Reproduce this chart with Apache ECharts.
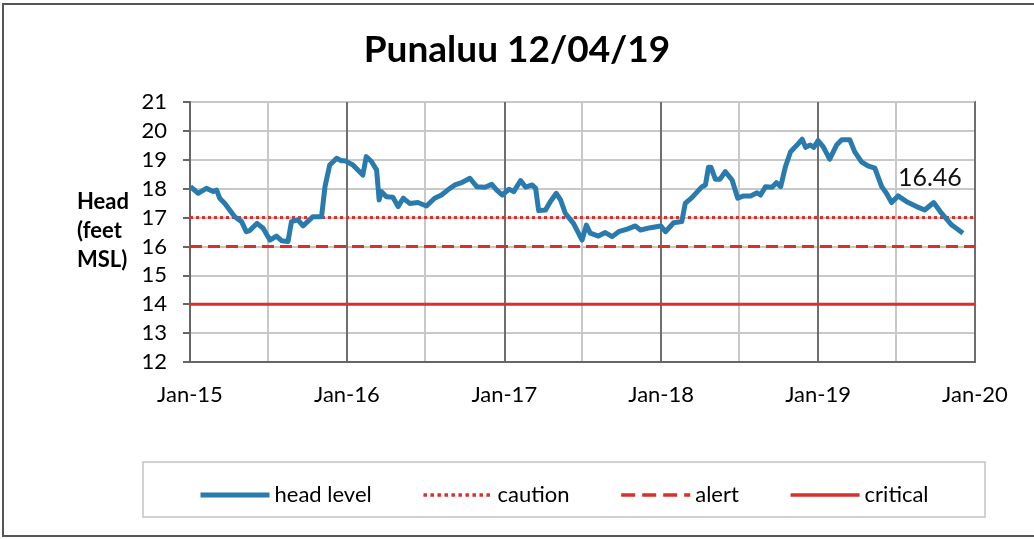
<!DOCTYPE html>
<html>
<head>
<meta charset="utf-8">
<script src="https://cdn.jsdelivr.net/npm/echarts@6/dist/echarts.min.js"></script>
<style>
  html, body { margin: 0; padding: 0; background: #fff; }
  #chart { width: 1034px; height: 539px; }
</style>
</head>
<body>
<div id="chart"></div>
<script>
// head level readings (feet MSL)
const dates = [
  '2015-01-02', '2015-01-20', '2015-02-08', '2015-02-24', '2015-03-04', '2015-03-11', '2015-03-23', '2015-04-15',
  '2015-05-01', '2015-05-12', '2015-05-20', '2015-06-06', '2015-06-20', '2015-07-06', '2015-07-21', '2015-08-02',
  '2015-08-17', '2015-08-25', '2015-09-09', '2015-09-21', '2015-10-14', '2015-11-03', '2015-11-11', '2015-11-22',
  '2015-12-08', '2015-12-19', '2015-12-27', '2016-01-15', '2016-02-07', '2016-02-15', '2016-02-27', '2016-03-10',
  '2016-03-16', '2016-03-21', '2016-04-02', '2016-04-17', '2016-04-29', '2016-05-11', '2016-05-26', '2016-06-14',
  '2016-07-04', '2016-07-23', '2016-08-08', '2016-08-23', '2016-09-08', '2016-09-24', '2016-10-13', '2016-10-29',
  '2016-11-17', '2016-12-03', '2016-12-14', '2016-12-27', '2017-01-12', '2017-01-23', '2017-02-08', '2017-02-20',
  '2017-03-07', '2017-03-15', '2017-03-22', '2017-04-07', '2017-04-18', '2017-05-02', '2017-05-12', '2017-05-23',
  '2017-06-11', '2017-07-01', '2017-07-11', '2017-07-20', '2017-08-08', '2017-08-24', '2017-09-09', '2017-09-24',
  '2017-10-14', '2017-11-02', '2017-11-14', '2017-12-07', '2017-12-31', '2018-01-11', '2018-01-30', '2018-02-18',
  '2018-02-26', '2018-03-14', '2018-04-06', '2018-04-14', '2018-04-21', '2018-04-27', '2018-05-07', '2018-05-18',
  '2018-05-30', '2018-06-15', '2018-06-28', '2018-07-12', '2018-07-28', '2018-08-12', '2018-08-20', '2018-09-01',
  '2018-09-16', '2018-09-26', '2018-10-06', '2018-10-17', '2018-10-29', '2018-11-13', '2018-11-25', '2018-12-03',
  '2018-12-14', '2018-12-22', '2019-01-01', '2019-01-13', '2019-01-28', '2019-02-13', '2019-02-25', '2019-03-16',
  '2019-03-27', '2019-04-12', '2019-04-27', '2019-05-13', '2019-05-29', '2019-06-09', '2019-06-21', '2019-07-06',
  '2019-07-26', '2019-08-18', '2019-09-06', '2019-09-27', '2019-10-15', '2019-11-08', '2019-12-04'
];
const headLevel = [
  18.07, 17.84, 18.01, 17.90, 17.95, 17.67, 17.49, 17.03,
  16.86, 16.51, 16.55, 16.80, 16.63, 16.22, 16.36, 16.20,
  16.17, 16.86, 16.92, 16.71, 17.03, 17.03, 18.07, 18.82,
  19.05, 18.97, 18.97, 18.82, 18.47, 19.11, 18.94, 18.65,
  17.61, 17.90, 17.72, 17.70, 17.38, 17.67, 17.49, 17.52,
  17.40, 17.67, 17.78, 17.96, 18.13, 18.21, 18.36, 18.07,
  18.05, 18.15, 17.96, 17.78, 17.98, 17.90, 18.28, 18.05,
  18.13, 18.01, 17.24, 17.26, 17.55, 17.84, 17.61, 17.15,
  16.80, 16.22, 16.74, 16.46, 16.36, 16.48, 16.34, 16.51,
  16.60, 16.71, 16.57, 16.65, 16.71, 16.51, 16.82, 16.86,
  17.49, 17.70, 18.07, 18.13, 18.74, 18.74, 18.33, 18.33,
  18.59, 18.30, 17.67, 17.75, 17.75, 17.86, 17.78, 18.07,
  18.05, 18.21, 18.07, 18.76, 19.28, 19.51, 19.71, 19.43,
  19.51, 19.43, 19.66, 19.45, 19.02, 19.51, 19.69, 19.69,
  19.28, 18.93, 18.79, 18.71, 18.07, 17.84, 17.52, 17.75,
  17.55, 17.38, 17.26, 17.52, 17.15, 16.74, 16.46
];

// threshold levels
const thresholdNames = ['caution', 'alert', 'critical'];
const thresholdValues = [17, 16, 14];
const thresholdTypes = ['dotted', 'dashed', 'solid'];

const xRange = ['2015-01-01', '2020-01-01'];

const chart = echarts.init(document.getElementById('chart'));
const font = 'Lato, "Noto Sans", sans-serif';
const red = '#d8302a';

const series = [{
  name: 'head level',
  type: 'line',
  symbol: 'none',
  data: dates.map((d, i) => [d, headLevel[i]]),
  lineStyle: { color: '#2a7bad', width: 5, join: 'round' },
  itemStyle: { color: '#2a7bad' },
  // latest reading shown above the end of the line
  endLabel: {
    show: true,
    formatter: p => p.value[1].toFixed(2),
    distance: 0,
    offset: [-65, -55],
    fontSize: 25,
    fontFamily: font,
    color: '#111'
  },
  z: 5
}];
thresholdNames.forEach((name, i) => {
  series.push({
    name,
    type: 'line',
    symbol: 'none',
    data: xRange.map(d => [d, thresholdValues[i]]),
    lineStyle: { color: red, width: 3, type: thresholdTypes[i] },
    itemStyle: { color: red },
    z: 3
  });
});

const option = {
  backgroundColor: '#fff',
  animation: false,
  title: {
    text: 'Punaluu 12/04/19',
    left: 'center',
    top: 27,
    textStyle: { fontFamily: font, fontWeight: 'bold', fontSize: 37, color: '#000' }
  },
  grid: { left: 190, right: 59, top: 102, bottom: 177, show: true, borderColor: '#666', borderWidth: 2 },
  xAxis: {
    type: 'time',
    min: xRange[0],
    max: xRange[1],
    minInterval: 3600 * 24 * 1000 * 180,
    maxInterval: 3600 * 24 * 1000 * 185,
    axisLine: { lineStyle: { color: '#666', width: 2 } },
    axisTick: { show: false },
    axisLabel: {
      margin: 22,
      fontSize: 22,
      fontFamily: font,
      color: '#000',
      showMinLabel: true,
      showMaxLabel: true,
      hideOverlap: false,
      formatter: v => {
        const d = new Date(v);
        return d.getMonth() === 0 ? 'Jan-' + String(d.getFullYear()).slice(2) : '';
      }
    },
    splitLine: { show: true, lineStyle: { color: ['#c8c8c8', '#6f6f6f'], width: 2 } }
  },
  yAxis: {
    type: 'value',
    min: 12,
    max: 21,
    interval: 1,
    axisLine: { show: true, lineStyle: { color: '#666', width: 2 } },
    axisTick: { show: true, length: 7, lineStyle: { color: '#666', width: 2 } },
    axisLabel: { margin: 23, fontSize: 22, fontFamily: font, color: '#000' },
    splitLine: { lineStyle: { color: '#c8c8c8', width: 2 } }
  },
  legend: {
    left: 193,
    top: 479,
    itemWidth: 69,
    itemHeight: 12,
    itemGap: 50,
    itemStyle: { opacity: 0 },
    lineStyle: { width: 3.5 },
    textStyle: { fontFamily: font, fontSize: 22, color: '#000', padding: [0, 0, 0, 0] },
    data: [
      { name: 'head level', lineStyle: { width: 5 } },
      ...thresholdNames.map(name => ({ name, lineStyle: { width: 3.5 } }))
    ]
  },
  graphic: [
    {
      type: 'text',
      left: 77,
      top: 187,
      style: {
        text: 'Head\n(feet\nMSL)',
        fontFamily: font,
        fontWeight: 'bold',
        fontSize: 22,
        lineHeight: 29,
        fill: '#000'
      }
    },
    {
      type: 'rect',
      shape: { x: 143, y: 462, width: 842, height: 55 },
      style: { fill: 'none', stroke: '#c4c4c4', lineWidth: 1.5 }
    },
    {
      type: 'rect',
      shape: { x: 3, y: 4, width: 1050, height: 532 },
      style: { fill: 'none', stroke: '#555', lineWidth: 2 }
    }
  ],
  series
};

chart.setOption(option);
</script>
</body>
</html>
